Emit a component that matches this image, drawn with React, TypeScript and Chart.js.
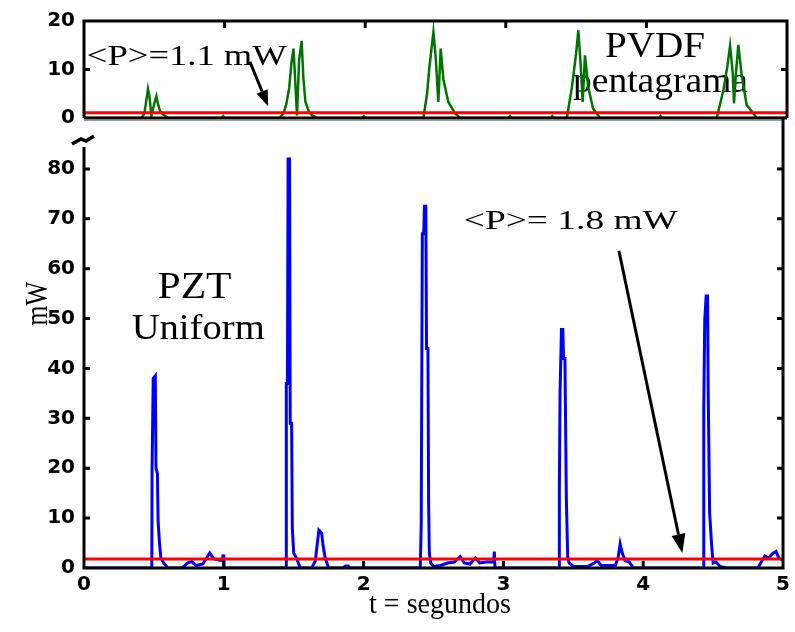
import React, { useEffect, useRef } from 'react';
import { Chart, registerables } from 'chart.js';
Chart.register(...registerables);

// ---- data ----
const pztTime = [0, 0.485, 0.487, 0.495, 0.51, 0.515, 0.525, 0.53, 0.54, 0.55, 0.57, 0.6, 0.7, 0.74, 0.77, 0.8, 0.85, 0.9, 0.93, 0.98, 0.99, 0.995, 1.0,
  1.44, 1.445, 1.447, 1.455, 1.46, 1.47, 1.475, 1.485, 1.49, 1.5, 1.52, 1.54, 1.55, 1.63, 1.655, 1.665, 1.68, 1.7, 1.71, 1.725, 1.75, 1.85, 1.87, 1.89, 1.9,
  2.405, 2.41, 2.412, 2.42, 2.43, 2.435, 2.445, 2.45, 2.46, 2.465, 2.47, 2.48, 2.5, 2.55, 2.6, 2.65, 2.69, 2.72, 2.76, 2.8, 2.83, 2.88, 2.93, 2.935, 2.94,
  3.395, 3.398, 3.4, 3.405, 3.415, 3.425, 3.43, 3.44, 3.45, 3.46, 3.47, 3.5, 3.6, 3.65, 3.67, 3.7, 3.8, 3.82, 3.835, 3.85, 3.87, 3.9, 3.93,
  4.43, 4.433, 4.44, 4.45, 4.46, 4.465, 4.475, 4.49, 4.5, 4.52, 4.55, 4.6, 4.82, 4.84, 4.87, 4.9, 4.92, 4.95, 4.97, 5.0];
const pztPower = [0, 0, 20, 38, 38.5, 20, 19, 9.5, 5, 2, 1, 0, 0, 1, 1.3, 0.5, 0.8, 3, 1.8, 1.5, 1.5, 2.7, 0,
  0, 0, 37, 37, 82, 82, 29, 29, 8, 3, 2, 0.5, 0, 0, 1.5, 4, 7.6, 7, 4.5, 2, 0, 0, 0.4, 0.4, 0,
  0, 0, 8.6, 67, 67, 72.5, 72.5, 44, 44, 13, 3, 1, 0.3, 0.5, 1, 1.2, 2.3, 1, 0.8, 2, 1, 1.2, 1.2, 3.3, 0,
  0, 0, 15.6, 35, 47.8, 47.8, 42, 42, 14, 2, 1, 0.3, 0.3, 1, 1.5, 0.5, 0.5, 2, 4.8, 3, 1.5, 1.2, 0,
  0, 31.7, 49.7, 54.5, 54.5, 34.7, 11, 4.3, 1, 1.2, 0.3, 0, 0, 1, 2.4, 2, 2.8, 3.3, 2, 1.5];

const pvdfTime = [0, 0.41, 0.43, 0.445, 0.455, 0.465, 0.48, 0.5, 0.515, 0.525, 0.54, 0.56, 0.6, 0.98, 0.99, 1.0,
  1.39, 1.42, 1.44, 1.46, 1.475, 1.49, 1.5, 1.515, 1.53, 1.548, 1.56, 1.575, 1.6, 1.62, 1.66, 1.98, 1.99, 2.0,
  2.414, 2.44, 2.456, 2.485, 2.502, 2.52, 2.537, 2.556, 2.591, 2.638, 2.674, 3.02, 3.03, 3.04, 3.32, 3.33, 3.34,
  3.434, 3.47, 3.5, 3.516, 3.533, 3.547, 3.563, 3.587, 3.62, 3.67, 4.09, 4.1, 4.11,
  4.5, 4.547, 4.576, 4.595, 4.614, 4.623, 4.637, 4.654, 4.678, 4.713, 4.76, 4.784, 5.0];
const pvdfPower = [0, 0, 1, 4, 6, 4.5, 0.5, 3, 4.5, 3, 1.5, 0.8, 0, 0, 0.4, 0,
  0, 1, 3, 6.3, 11.3, 14.3, 9, 0.5, 12, 15.9, 8.3, 3.3, 1.3, 0.6, 0, 0, 0.4, 0,
  0, 5, 10.3, 17.7, 12.3, 3.3, 14.3, 8, 3.3, 1, 0, 0, 0.4, 0, 0, 0.4, 0,
  0, 6.3, 13.3, 18.1, 10.7, 3.3, 12.9, 6.3, 2, 0, 0, 0.4, 0,
  0, 5.6, 10.7, 14.9, 9.3, 3, 9.3, 15.1, 8.7, 2.7, 1, 0, 0];

const pztMean = 1.8;
const pvdfMean = 1.1;
const timeRange = [0, 5];
const pztRange = [0, 90];
const pvdfRange = [0, 20];
const lastPztLabel = 80;

// ---- styles ----
const TICK_FONT = { family: 'DejaVu Sans', weight: 'bold' as const, size: 20 };
const SERIF = '"Liberation Serif", "DejaVu Serif", serif';

type Note = { text: string; t: number; v: number; size: number; width: number };
const pvdfNotes: Note[] = [
  { text: '<P>=1.1 mW', t: 0.02, v: 11, size: 29, width: 200 },
  { text: 'PVDF', t: 3.705, v: 12.6, size: 35, width: 100 },
  { text: 'pentagrama', t: 3.478, v: 5.3, size: 36, width: 175 },
];
const pztNotes: Note[] = [
  { text: 'PZT', t: 0.526, v: 54.2, size: 37, width: 74 },
  { text: 'Uniform', t: 0.341, v: 46, size: 36, width: 133 },
  { text: '<P>= 1.8 mW', t: 2.717, v: 68, size: 28, width: 214 },
];

function fitText(ctx: CanvasRenderingContext2D, text: string, x: number, y: number, size: number, width: number, rot = 0) {
  ctx.save();
  ctx.font = `${size}px ${SERIF}`;
  ctx.fillStyle = '#000';
  ctx.textBaseline = 'alphabetic';
  const w = ctx.measureText(text).width;
  ctx.translate(x, y);
  if (rot) ctx.rotate(rot);
  ctx.scale(width / w, 1);
  ctx.fillText(text, 0, 0);
  ctx.restore();
}

function arrow(ctx: CanvasRenderingContext2D, x1: number, y1: number, x2: number, y2: number, head: number, hw: number) {
  const ang = Math.atan2(y2 - y1, x2 - x1);
  const bx = x2 - head * Math.cos(ang), by = y2 - head * Math.sin(ang);
  ctx.save();
  ctx.strokeStyle = '#000';
  ctx.fillStyle = '#000';
  ctx.lineWidth = 3;
  ctx.setLineDash([]);
  ctx.beginPath();
  ctx.moveTo(x1, y1);
  ctx.lineTo(bx, by);
  ctx.stroke();
  ctx.beginPath();
  ctx.moveTo(x2, y2);
  ctx.lineTo(bx + hw * Math.sin(ang), by - hw * Math.cos(ang));
  ctx.lineTo(bx - hw * Math.sin(ang), by + hw * Math.cos(ang));
  ctx.closePath();
  ctx.fill();
  ctx.restore();
}

const pts = (xs: number[], ys: number[]) => xs.map((x, i) => ({ x, y: ys[i] }));

export default function App() {
  const topRef = useRef<HTMLCanvasElement>(null);
  const botRef = useRef<HTMLCanvasElement>(null);

  useEffect(() => {
    const H = 632;
    const topBottom = 118;

    const topPlugin = {
      id: 'topFrame',
      beforeDatasetsDraw(chart: any) {
        const { ctx, scales: { x, y } } = chart;
        pvdfNotes.forEach(n => fitText(ctx, n.text, x.getPixelForValue(n.t), y.getPixelForValue(n.v), n.size, n.width));
      },
      afterDraw(chart: any) {
        const { ctx, chartArea: a, scales: { x, y } } = chart;
        ctx.save();
        ctx.strokeStyle = '#000';
        ctx.lineWidth = 3;
        ctx.beginPath();
        ctx.moveTo(a.left, a.bottom);
        ctx.lineTo(a.left, a.top);
        ctx.lineTo(a.right, a.top);
        ctx.lineTo(a.right, a.bottom);
        ctx.moveTo(a.left, a.bottom);
        ctx.lineTo(a.right, a.bottom);
        [1, 2, 3, 4].forEach(t => {
          const px = x.getPixelForValue(t);
          ctx.moveTo(px, a.top);
          ctx.lineTo(px, a.top + 7);
        });
        const py = y.getPixelForValue(10);
        ctx.moveTo(a.left, py); ctx.lineTo(a.left + 6, py);
        ctx.moveTo(a.right, py); ctx.lineTo(a.right - 6, py);
        ctx.stroke();
        ctx.restore();
        arrow(ctx, x.getPixelForValue(1.18), y.getPixelForValue(11.6), x.getPixelForValue(1.31), y.getPixelForValue(2.4), 16, 6);
      },
    };

    const botPlugin = {
      id: 'botFrame',
      beforeDatasetsDraw(chart: any) {
        const { ctx, scales: { x, y } } = chart;
        pztNotes.forEach(n => fitText(ctx, n.text, x.getPixelForValue(n.t), y.getPixelForValue(n.v), n.size, n.width));
      },
      afterDraw(chart: any) {
        const { ctx, chartArea: a, scales: { x, y } } = chart;
        ctx.save();
        ctx.strokeStyle = '#9a9a9a';
        ctx.lineWidth = 1;
        ctx.beginPath();
        ctx.moveTo(a.left, a.top + 1.5);
        ctx.lineTo(a.right, a.top + 1.5);
        ctx.stroke();
        ctx.strokeStyle = '#000';
        ctx.lineWidth = 3;
        ctx.beginPath();
        const breakY = a.top + 28;
        ctx.moveTo(a.left, breakY);
        ctx.lineTo(a.left, a.bottom);
        ctx.lineTo(a.right, a.bottom);
        ctx.lineTo(a.right, a.top - 2);
        [1, 2, 3, 4].forEach(t => {
          const px = x.getPixelForValue(t);
          ctx.moveTo(px, a.bottom);
          ctx.lineTo(px, a.bottom - 7);
        });
        for (let v = 10; v <= lastPztLabel; v += 10) {
          const py = y.getPixelForValue(v);
          ctx.moveTo(a.left, py); ctx.lineTo(a.left + 6, py);
          ctx.moveTo(a.right, py); ctx.lineTo(a.right - 6, py);
        }
        ctx.stroke();
        ctx.lineWidth = 3.5;
        ctx.beginPath();
        ctx.moveTo(a.left - 12, breakY - 3);
        ctx.lineTo(a.left - 3, breakY - 8);
        ctx.lineTo(a.left + 2, breakY - 6);
        ctx.lineTo(a.left + 10, breakY - 11);
        ctx.stroke();
        ctx.restore();
        arrow(ctx, x.getPixelForValue(3.826), y.getPixelForValue(63.6), x.getPixelForValue(4.28), y.getPixelForValue(3), 19, 7);
        fitText(ctx, 'mW', a.left - 37, y.getPixelForValue(53) + 22, 32, 44, -Math.PI / 2);
        const cx = (a.left + a.right) / 2 + 6;
        fitText(ctx, 't = segundos', cx - 70.5, a.bottom + 45, 29, 142);
      },
    };

    const common = {
      animation: false as const,
      responsive: false,
      maintainAspectRatio: false,
      events: [] as any[],
      plugins: { legend: { display: false }, tooltip: { enabled: false } },
    };

    const topChart = new Chart(topRef.current!, {
      type: 'line',
      data: {
        datasets: [
          { data: pts(timeRange, [pvdfMean, pvdfMean]), borderColor: '#ff0000', borderWidth: 3, pointRadius: 0 },
          { data: pts(pvdfTime, pvdfPower), borderColor: '#007400', borderWidth: 2.5, pointRadius: 0, tension: 0 },
        ],
      },
      options: {
        ...common,
        layout: { padding: { top: 17, right: 8, bottom: H - topBottom, left: 0 } },
        scales: {
          x: { type: 'linear', min: timeRange[0], max: timeRange[1], display: false },
          y: {
            min: pvdfRange[0], max: pvdfRange[1],
            ticks: { stepSize: 10, font: TICK_FONT, color: '#000', padding: 9 },
            grid: { display: false, drawTicks: false },
            border: { display: false },
            afterFit(s: any) { s.width = 84; },
          },
        },
      },
      plugins: [topPlugin],
    } as any);

    const botChart = new Chart(botRef.current!, {
      type: 'line',
      data: {
        datasets: [
          { data: pts(timeRange, [pztMean, pztMean]), borderColor: '#ff0000', borderWidth: 3, pointRadius: 0 },
          { data: pts(pztTime, pztPower), borderColor: '#0000ff', borderWidth: 3, pointRadius: 0, tension: 0 },
        ],
      },
      options: {
        ...common,
        layout: { padding: { top: 119, right: 8, bottom: 0, left: 0 } },
        scales: {
          x: {
            type: 'linear', min: timeRange[0], max: timeRange[1],
            ticks: { stepSize: 1, font: TICK_FONT, color: '#000', padding: 5 },
            grid: { display: false, drawTicks: false },
            border: { display: false },
            afterFit(s: any) { s.height = 64; },
          },
          y: {
            min: pztRange[0], max: pztRange[1],
            ticks: { stepSize: 10, font: TICK_FONT, color: '#000', padding: 9, callback: (v: any) => (v > lastPztLabel ? '' : v) },
            grid: { display: false, drawTicks: false },
            border: { display: false },
            afterFit(s: any) { s.width = 84; },
          },
        },
      },
      plugins: [botPlugin],
    } as any);

    return () => { topChart.destroy(); botChart.destroy(); };
  }, []);

  const cs: React.CSSProperties = { position: 'absolute', left: 0, top: 0, width: 795, height: 632 };
  return (
    <div style={{ position: 'fixed', left: 0, top: 0, width: 795, height: 632, background: '#fff' }}>
      <canvas ref={botRef} width={795} height={632} style={cs} />
      <canvas ref={topRef} width={795} height={632} style={cs} />
    </div>
  );
}
